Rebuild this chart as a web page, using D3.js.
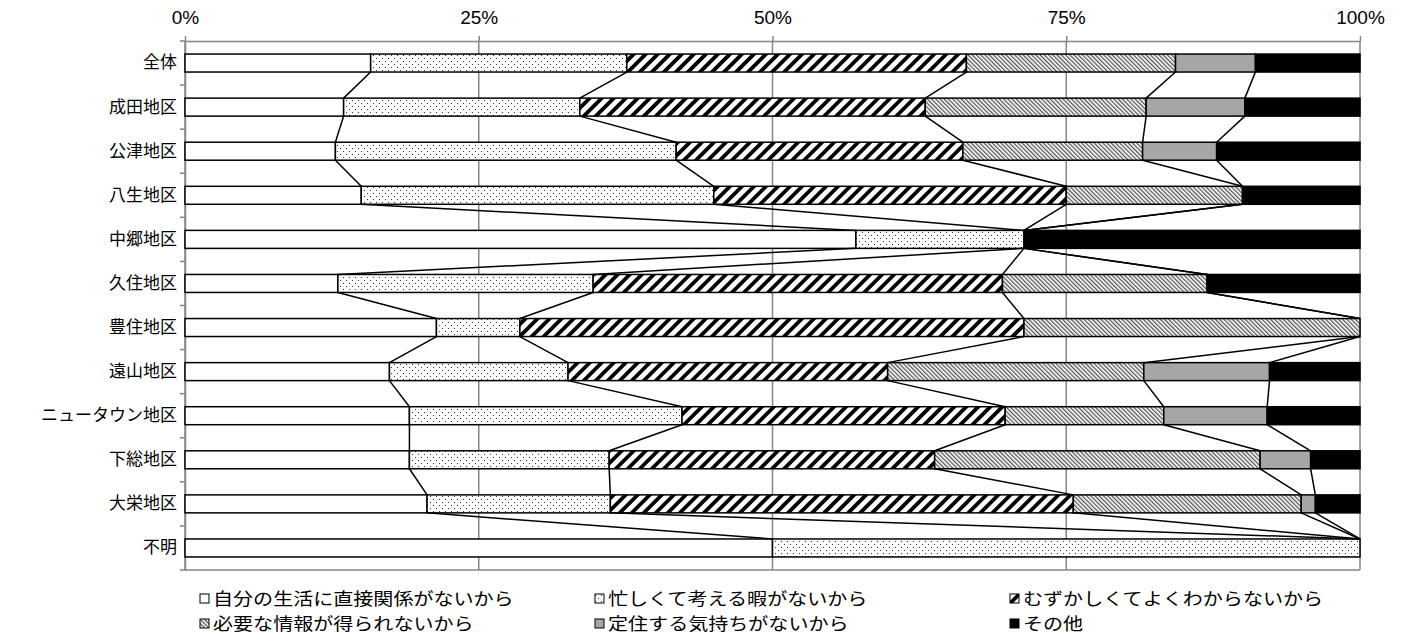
<!DOCTYPE html>
<html><head><meta charset="utf-8">
<script src="https://cdn.jsdelivr.net/npm/d3@7"></script>
<style>
html,body{margin:0;padding:0;background:#fff;}
svg{display:block;}
</style></head>
<body>
<svg id="chart" width="1403" height="641"></svg>
<script>
const categories = ["全体","成田地区","公津地区","八生地区","中郷地区","久住地区","豊住地区","遠山地区","ニュータウン地区","下総地区","大栄地区","不明"];
const seriesNames = ["自分の生活に直接関係がないから","忙しくて考える暇がないから","むずかしくてよくわからないから","必要な情報が得られないから","定住する気持ちがないから","その他"];
const s1 = [15.8, 13.5, 12.8, 15.0, 57.1, 13.0, 21.4, 17.4, 19.1, 19.1, 20.6, 50.0];
const s2 = [21.8, 20.1, 29.0, 30.0, 14.3, 21.7,  7.1, 15.2, 23.2, 17.0, 15.6, 50.0];
const s3 = [28.9, 29.4, 24.4, 30.0,  0.0, 34.8, 42.9, 27.2, 27.5, 27.7, 39.4,  0.0];
const s4 = [17.8, 18.8, 15.3, 15.0,  0.0, 17.4, 28.6, 21.8, 13.5, 27.7, 19.4,  0.0];
const s5 = [ 6.8,  8.4,  6.3,  0.0,  0.0,  0.0,  0.0, 10.7,  8.8,  4.3,  1.2,  0.0];
const s6 = [ 8.9,  9.8, 12.2, 10.0, 28.6, 13.0,  0.0,  7.7,  7.9,  4.2,  3.8,  0.0];
const tickLabels = ["0%","25%","50%","75%","100%"];
const tickValues = [0, 0.25, 0.5, 0.75, 1];

(function(){
const allSeries = [s1,s2,s3,s4,s5,s6];
const rows = categories.map((c,i)=>{
  const o = {cat:c};
  const tot = allSeries.reduce((a,s)=>a+s[i],0);
  allSeries.forEach((s,k)=>{o["k"+k] = s[i]/tot;});
  return o;
});
const keys = allSeries.map((s,k)=>"k"+k);
const stacked = d3.stack().keys(keys)(rows);

const svg = d3.select("#chart");
const pL = 185, pR = 1360, pT = 41, pB = 570;
const x = d3.scaleLinear().domain([0,1]).range([pL,pR]);
const y = d3.scaleBand().domain(categories).range([pT,pB]).paddingInner(0.592).paddingOuter(0.296);
const bw = y.bandwidth();
const jp = "'Noto Sans CJK JP', sans-serif";

const defs = svg.append("defs");
const pDot = defs.append("pattern").attr("id","pDot").attr("patternUnits","userSpaceOnUse").attr("width",6).attr("height",6);
pDot.append("rect").attr("width",6).attr("height",6).attr("fill","#fff");
pDot.append("rect").attr("x",1).attr("y",1).attr("width",1).attr("height",1).attr("fill","#333");
pDot.append("rect").attr("x",4).attr("y",4).attr("width",1).attr("height",1).attr("fill","#333");
const pWide = defs.append("pattern").attr("id","pWide").attr("patternUnits","userSpaceOnUse").attr("width",8.5).attr("height",8.5).attr("patternTransform","rotate(45)");
pWide.append("rect").attr("width",8.5).attr("height",8.5).attr("fill","#fff");
pWide.append("rect").attr("x",0).attr("y",0).attr("width",3.8).attr("height",8.5).attr("fill","#000");
const pNar = defs.append("pattern").attr("id","pNar").attr("patternUnits","userSpaceOnUse").attr("width",3).attr("height",3).attr("patternTransform","rotate(-45)");
pNar.append("rect").attr("width",3).attr("height",3).attr("fill","#fff");
pNar.append("rect").attr("x",0).attr("y",0).attr("width",1.3).attr("height",3).attr("fill","#555");

const fills = ["#ffffff","url(#pDot)","url(#pWide)","url(#pNar)","#a6a6a6","#000000"];
const gridColor = "#868686";

svg.append("g").selectAll("line").data(tickValues).join("line")
  .attr("x1",d=>x(d)).attr("x2",d=>x(d)).attr("y1",pT).attr("y2",pB)
  .attr("stroke",gridColor).attr("stroke-width",1.5);
svg.append("line").attr("x1",pL).attr("x2",pR).attr("y1",pB).attr("y2",pB).attr("stroke",gridColor).attr("stroke-width",1.5);

const xAxis = d3.axisTop(x).tickValues(tickValues).tickFormat((d,i)=>tickLabels[i]).tickSize(5).tickSizeOuter(0);
const gx = svg.append("g").attr("transform",`translate(0,${pT})`).call(xAxis);
gx.select(".domain").attr("stroke",gridColor).attr("stroke-width",1.5);
gx.selectAll(".tick line").attr("stroke",gridColor).attr("stroke-width",1.5);
gx.selectAll(".tick text").attr("font-family","'Liberation Sans', Arial, sans-serif").attr("font-size",19).attr("fill","#000").attr("y",-17).attr("dy","0");

const yAxis = d3.axisLeft(y).tickSize(0).tickPadding(8);
const gy = svg.append("g").attr("transform",`translate(${pL},0)`).call(yAxis);
gy.select(".domain").attr("stroke",gridColor).attr("stroke-width",1.5);
gy.selectAll(".tick text").attr("font-family",jp).attr("font-size",17).attr("fill","#000");
const bounds = d3.range(categories.length+1).map(i=>pT + i*(pB-pT)/categories.length);
svg.append("g").selectAll("line").data(bounds).join("line")
  .attr("x1",pL-5).attr("x2",pL).attr("y1",d=>d).attr("y2",d=>d)
  .attr("stroke",gridColor).attr("stroke-width",1.5);

const gBars = svg.append("g");
stacked.forEach((layer,k)=>{
  gBars.append("g").selectAll("rect").data(layer.filter(d=>d[1]-d[0]>1e-9)).join("rect")
    .attr("x",d=>x(d[0])).attr("width",d=>x(d[1])-x(d[0]))
    .attr("y",d=>y(d.data.cat)).attr("height",bw)
    .attr("fill",fills[k]).attr("stroke","#000").attr("stroke-width",1.5);
});

const gLines = svg.append("g");
stacked.slice(0,5).forEach((layer)=>{
  const segs = d3.range(categories.length-1).map(i=>[layer[i],layer[i+1]]);
  gLines.append("g").selectAll("line").data(segs).join("line")
    .attr("x1",d=>x(d[0][1])).attr("y1",d=>y(d[0].data.cat)+bw)
    .attr("x2",d=>x(d[1][1])).attr("y2",d=>y(d[1].data.cat))
    .attr("stroke","#000").attr("stroke-width",1.5);
});

const legX = [200, 595, 1010];
const legY = [599, 624];
const gLeg = svg.append("g");
seriesNames.forEach((name,i)=>{
  const cx = legX[i%3], cy = legY[Math.floor(i/3)];
  gLeg.append("rect").attr("x",cx).attr("y",cy-5).attr("width",9).attr("height",9)
    .attr("fill",fills[i]).attr("stroke","#000").attr("stroke-width",1);
  gLeg.append("text").attr("transform",`translate(${cx+13},${cy}) scale(1.18,1)`).attr("dy","0.36em")
    .attr("font-family",jp).attr("font-size",17).attr("fill","#000").text(name);
});
})();
</script>
</body></html>
